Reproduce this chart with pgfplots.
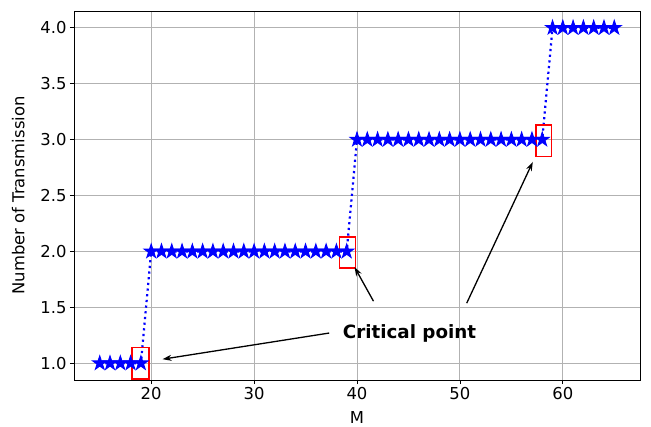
\documentclass[border=0pt]{standalone}
\usepackage{pgfplots}
\pgfplotsset{compat=1.18}
\usepackage{fontspec}
\setmainfont{DejaVu Sans}
\usetikzlibrary{arrows.meta}

% filled five-pointed star
\pgfdeclareplotmark{fstar}{%
  \pgfpathmoveto{\pgfqpointpolar{90}{\pgfplotmarksize}}%
  \pgfpathlineto{\pgfqpointpolar{126}{0.382\pgfplotmarksize}}%
  \pgfpathlineto{\pgfqpointpolar{162}{\pgfplotmarksize}}%
  \pgfpathlineto{\pgfqpointpolar{198}{0.382\pgfplotmarksize}}%
  \pgfpathlineto{\pgfqpointpolar{234}{\pgfplotmarksize}}%
  \pgfpathlineto{\pgfqpointpolar{270}{0.382\pgfplotmarksize}}%
  \pgfpathlineto{\pgfqpointpolar{306}{\pgfplotmarksize}}%
  \pgfpathlineto{\pgfqpointpolar{342}{0.382\pgfplotmarksize}}%
  \pgfpathlineto{\pgfqpointpolar{18}{\pgfplotmarksize}}%
  \pgfpathlineto{\pgfqpointpolar{54}{0.382\pgfplotmarksize}}%
  \pgfpathclose
  \pgfusepathqfillstroke}

\begin{document}
\begin{tikzpicture}
\useasboundingbox (0,0) rectangle (651bp,427bp);
\begin{axis}[
  at={(74bp,47bp)}, anchor=south west,
  scale only axis, width=566bp, height=369bp,
  xmin=12.5, xmax=67.5, ymin=0.85, ymax=4.15,
  xtick={20,30,40,50,60},
  ytick={1,1.5,2,2.5,3,3.5,4},
  yticklabel style={/pgf/number format/.cd, fixed, fixed zerofill, precision=1},
  /pgf/number format/assume math mode=true,
  tick align=outside, tick pos=left,
  major tick length=4bp,
  every tick/.style={black, line width=0.8bp},
  grid=major,
  major grid style={line width=0.9bp, color=black!30},
  axis line style={line width=0.9bp},
  ticklabel style={font=\fontsize{16.4bp}{19bp}\selectfont},
  label style={font=\fontsize{16.4bp}{19bp}\selectfont},
  xlabel={M}, ylabel={Number of Transmission},
  xlabel style={yshift=-5bp},
  ylabel style={yshift=9bp},
  clip=false,
]
\addplot[blue, line width=2.2bp, dash pattern=on 2.2bp off 3.5bp,
  mark=fstar, mark size=7.3bp, mark options={solid, fill=blue, draw=blue, line width=1bp}]
  coordinates {
  (15,1) (16,1) (17,1) (18,1) (19,1)
  (20,2) (21,2) (22,2) (23,2) (24,2) (25,2) (26,2) (27,2) (28,2) (29,2)
  (30,2) (31,2) (32,2) (33,2) (34,2) (35,2) (36,2) (37,2) (38,2) (39,2)
  (40,3) (41,3) (42,3) (43,3) (44,3) (45,3) (46,3) (47,3) (48,3) (49,3)
  (50,3) (51,3) (52,3) (53,3) (54,3) (55,3) (56,3) (57,3) (58,3)
  (59,4) (60,4) (61,4) (62,4) (63,4) (64,4) (65,4)
  };
% critical points
\draw[red, line width=1.4bp] (axis cs:18.15,0.86) rectangle (axis cs:19.8,1.14);
\draw[red, line width=1.4bp] (axis cs:38.3,1.85) rectangle (axis cs:39.85,2.13);
\draw[red, line width=1.4bp] (axis cs:57.4,2.85) rectangle (axis cs:58.9,3.13);
\node[font=\fontsize{18.3bp}{21bp}\selectfont\bfseries] at (axis cs:45.1,1.27) {Critical point};
\draw[-{Stealth[length=9bp,width=6bp]}, line width=1.3bp] (axis cs:37.3,1.27) -- (axis cs:21.1,1.036);
\draw[-{Stealth[length=9bp,width=6bp]}, line width=1.3bp] (axis cs:41.6,1.555) -- (axis cs:39.76,1.86);
\draw[-{Stealth[length=9bp,width=6bp]}, line width=1.3bp] (axis cs:50.66,1.537) -- (axis cs:57.08,2.80);
\end{axis}
\end{tikzpicture}
\end{document}
